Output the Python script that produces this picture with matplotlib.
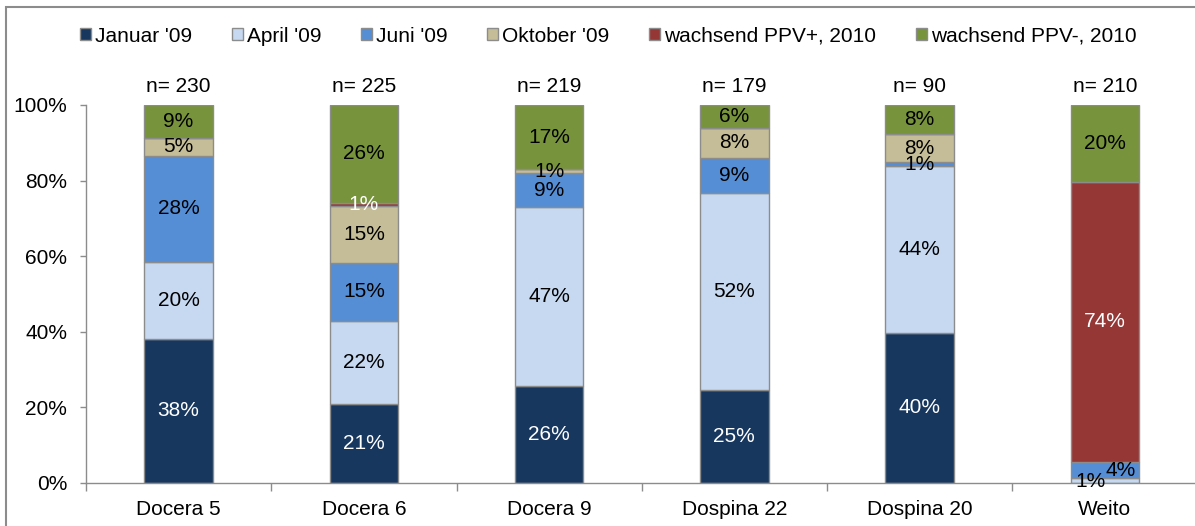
import matplotlib
matplotlib.use("Agg")
import matplotlib.pyplot as plt
from matplotlib.patches import Rectangle
import numpy as np

plt.rcParams['font.family'] = ['Liberation Sans', 'DejaVu Sans']

categories = ["Docera 5", "Docera 6", "Docera 9", "Dospina 22", "Dospina 20", "Weito"]
sample_sizes = ["n= 230", "n= 225", "n= 219", "n= 179", "n= 90", "n= 210"]
series_names = ["Januar '09", "April '09", "Juni '09", "Oktober '09",
                "wachsend PPV+, 2010", "wachsend PPV-, 2010"]
januar = [38.1, 20.9, 25.6, 24.6, 39.8, 0.0]
april = [20.4, 22.0, 47.3, 52.1, 44.0, 1.2]
juni = [28.0, 15.4, 9.1, 9.4, 1.0, 4.3]
oktober = [4.9, 15.1, 1.0, 7.8, 7.6, 0.0]
ppv_plus = [0.0, 0.7, 0.0, 0.0, 0.0, 74.2]
ppv_minus = [8.6, 25.9, 17.0, 6.1, 7.6, 20.3]
colors = ["#17375E", "#C6D9F1", "#558ED5", "#C4BD97", "#953735", "#77933C"]
label_colors = ["white", "black", "black", "black", "white", "black"]

series = [januar, april, juni, oktober, ppv_plus, ppv_minus]
FS = 15

fig = plt.figure(figsize=(11.95, 5.26), dpi=100)
# outer frame
fig.patches.append(Rectangle((6/1195, -0.05), 1.2, (526-7)/526 + 0.05, transform=fig.transFigure,
                             fill=False, edgecolor="#8c8c8c", linewidth=1.5))

ax = fig.add_axes([86/1195, 43/526, (1197.5-86)/1195, 378/526])
x = np.arange(len(categories))
width = 0.37
bottom = np.zeros(len(categories))
for vals, name, col, lc in zip(series, series_names, colors, label_colors):
    vals = np.array(vals)
    ax.bar(x, vals, width, bottom=bottom, color=col, edgecolor="#8c8c8c",
           linewidth=1.0, label=name, zorder=2)
    for i, v in enumerate(vals):
        if v > 0:
            dx = 0.0
            dy = 0.0
            if categories[i] == "Weito" and name == "April '09":
                dx = -0.075
                dy = -0.2
            if categories[i] == "Weito" and name == "Juni '09":
                dx = 0.085
            ax.text(x[i] + dx, bottom[i] + v / 2 + dy, f"{round(v):d}%", ha="center", va="center",
                    color=lc, fontsize=FS, zorder=3)
    bottom += vals

for i, s in enumerate(sample_sizes):
    ax.text(x[i], 104.8, s, ha="center", va="center", fontsize=FS, clip_on=False)

ax.set_xlim(-0.5, len(categories) - 0.5)
ax.set_ylim(0, 100)
ax.set_yticks(np.arange(0, 101, 20))
ax.set_yticklabels([f"{v}%" for v in range(0, 101, 20)], fontsize=FS)
ax.set_xticks(x)
ax.set_xticklabels(categories, fontsize=FS)
ax.tick_params(axis="x", length=0, pad=12)
ax.set_xticks(np.arange(-0.5, len(categories) + 0.5, 1), minor=True)
ax.tick_params(axis="x", which="minor", length=6, color="#8c8c8c", width=1)
ax.tick_params(axis="y", length=4.5, color="#8c8c8c", width=1, pad=9)
for sp in ["top", "right"]:
    ax.spines[sp].set_visible(False)
for sp in ["left", "bottom"]:
    ax.spines[sp].set_color("#8c8c8c")
    ax.spines[sp].set_linewidth(1.0)

handles, labels = ax.get_legend_handles_labels()
leg = fig.legend(handles, labels, loc="center", bbox_to_anchor=(608.5/1195, 1 - 36/526), ncol=6,
                 frameon=False, fontsize=FS, handlelength=0.52, handleheight=0.52,
                 handletextpad=0.2, columnspacing=1.9)

fig.savefig("out.png", dpi=100)
